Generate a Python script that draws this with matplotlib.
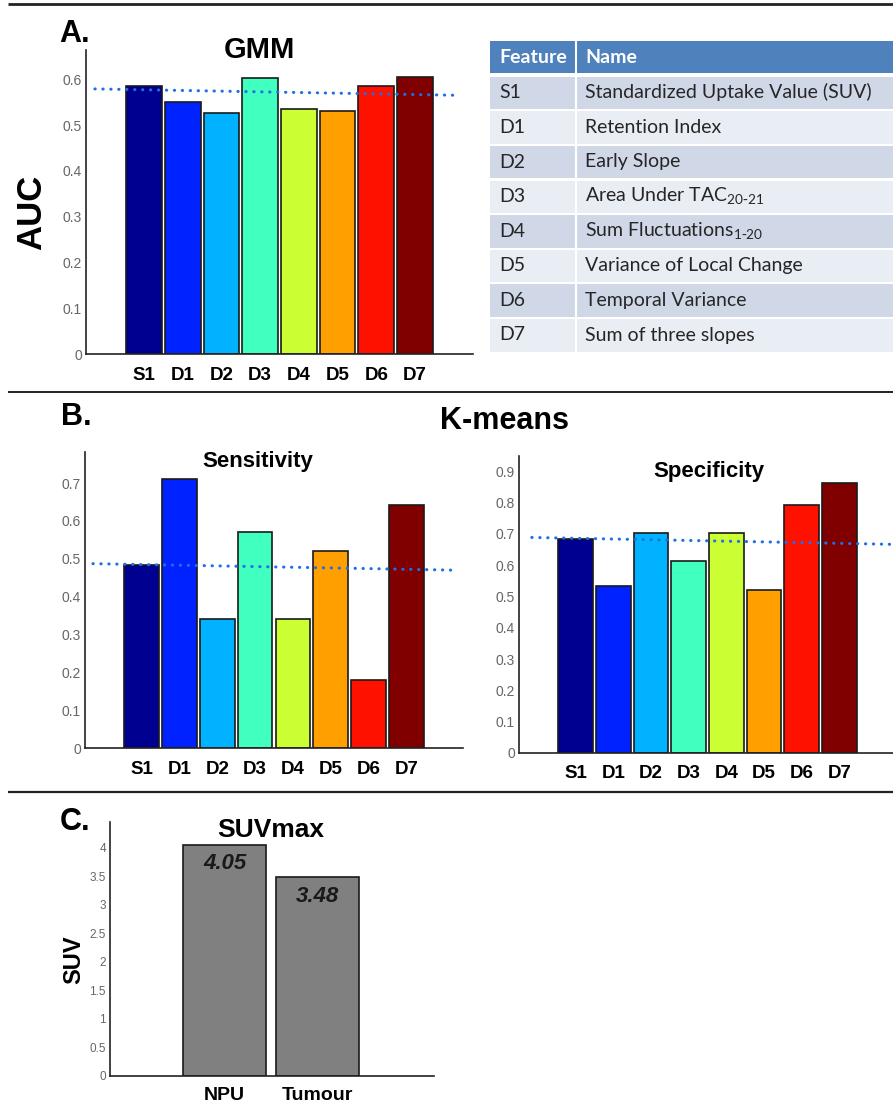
import matplotlib
matplotlib.use("Agg")
import matplotlib.pyplot as plt
from matplotlib.patches import Rectangle
from matplotlib.ticker import FormatStrFormatter, MultipleLocator

plt.rcParams['font.family'] = ['Liberation Sans', 'DejaVu Sans']

# Feature codes shared by all bar panels
features = ['S1', 'D1', 'D2', 'D3', 'D4', 'D5', 'D6', 'D7']
feature_colors = ['#000090', '#0022FF', '#00B2FF', '#40FFBF',
                  '#CCFF33', '#FF9F00', '#FF1100', '#800000']

# A. GMM
gmm_auc = [0.585, 0.551, 0.527, 0.603, 0.535, 0.531, 0.585, 0.605]
gmm_ref = [0.579, 0.565]          # reference line, start / end value

# B. K-means
km_sensitivity = [0.484, 0.711, 0.340, 0.571, 0.340, 0.521, 0.180, 0.643]
km_sens_ref = [0.487, 0.470]
km_specificity = [0.682, 0.532, 0.703, 0.612, 0.703, 0.520, 0.792, 0.861]
km_spec_ref = [0.688, 0.666]

# C. SUVmax
suv_groups = ['NPU', 'Tumour']
suv_max = [4.05, 3.48]

# Feature table
table_codes = ['S1', 'D1', 'D2', 'D3', 'D4', 'D5', 'D6', 'D7']
table_names = ['Standardized Uptake Value (SUV)',
               'Retention Index',
               'Early Slope',
               r'Area Under TAC$_{\mathregular{20\text{-}21}}$',
               r'Sum Fluctuations$_{\mathregular{1\text{-}20}}$',
               'Variance of Local Change',
               'Temporal Variance',
               'Sum of three slopes']

W, H = 893, 1109
fig = plt.figure(figsize=(W / 100, H / 100), dpi=100)

# full-figure overlay in pixel coordinates for rules, table and labels
ov = fig.add_axes([0, 0, 1, 1], zorder=0)
ov.set_xlim(0, W)
ov.set_ylim(H, 0)
ov.axis('off')


def rect(left, top, right, bottom):
    return [left / W, 1 - bottom / H, (right - left) / W, (bottom - top) / H]


def style_axes(ax, ylim, step, fmt, tick_size=10):
    ax.set_facecolor('none')
    for s in ('top', 'right'):
        ax.spines[s].set_visible(False)
    for s in ('left', 'bottom'):
        ax.spines[s].set_linewidth(1.2)
        ax.spines[s].set_color('#222222')
    ax.set_ylim(*ylim)
    ax.yaxis.set_major_locator(MultipleLocator(step))
    ax.yaxis.set_major_formatter(FormatStrFormatter(fmt))
    ax.tick_params(axis='y', length=0, pad=3, labelsize=tick_size,
                   labelcolor='#666666')
    ax.tick_params(axis='x', length=0, pad=9)


def feature_bars(ax, values, ref, ref_x, ylim, step):
    x = list(range(1, len(features) + 1))
    ax.bar(x, values, width=0.92, color=feature_colors,
           edgecolor='#1a1a1a', linewidth=1.2, zorder=2)
    ax.set_xlim(-0.5, 9.5)
    style_axes(ax, ylim, step, '%g')
    ax.set_xticks(x)
    ax.set_xticklabels(features, fontsize=13.5, fontweight='bold')
    ax.plot(ref_x, ref, color='#1F6FE5', linewidth=2.2,
            linestyle=(0, (0.1, 2.5)), dash_capstyle='round',
            clip_on=False, zorder=3)


# A. GMM
ax_a = fig.add_axes(rect(86, 50, 473, 354))
feature_bars(ax_a, gmm_auc, gmm_ref, [-0.27, 9.16], (0, 0.664), 0.1)

# B. Sensitivity / Specificity
ax_sens = fig.add_axes(rect(85, 452, 463, 748))
feature_bars(ax_sens, km_sensitivity, km_sens_ref, [-0.29, 9.2], (0, 0.782), 0.1)

ax_spec = fig.add_axes(rect(519, 456, 896, 753))
feature_bars(ax_spec, km_specificity, km_spec_ref, [-0.16, 9.42], (0, 0.948), 0.1)

# C. SUVmax
ax_c = fig.add_axes(rect(110, 822, 434, 1076))
xc = [1, 2]
ax_c.bar(xc, suv_max, width=0.9, color='#808080',
         edgecolor='#1a1a1a', linewidth=1.2, zorder=2)
ax_c.set_xlim(-0.24, 3.26)
style_axes(ax_c, (0, 4.45), 0.5, '%g', tick_size=8.5)
ax_c.set_xticks(xc)
ax_c.set_xticklabels(suv_groups, fontsize=14, fontweight='bold')
ax_c.tick_params(axis='x', pad=8)
for xi, v in zip(xc, suv_max):
    ax_c.text(xi, v - 0.33, f'{v:.2f}', ha='center', va='center',
              fontsize=16, fontweight='bold', fontstyle='italic',
              color='#1a1a1a', zorder=3)

# horizontal rules between panels
for y, lw in ((4, 2.0), (392, 1.4), (792, 1.6)):
    ov.plot([8, W], [y, y], color='#222222', linewidth=lw,
            solid_capstyle='butt')

# panel letters and titles
bold = dict(fontweight='bold', color='black', ha='center', va='center')
ov.text(75, 34, 'A.', fontsize=22, **bold)
ov.text(76, 417, 'B.', fontsize=22, **bold)
ov.text(75, 822, 'C.', fontsize=22, **bold)
ov.text(259, 50, 'GMM', fontsize=21, **bold)
ov.text(505, 421, 'K-means', fontsize=22, **bold)
ov.text(258, 462, 'Sensitivity', fontsize=16, **bold)
ov.text(709, 471, 'Specificity', fontsize=16, **bold)
ov.text(271, 830, 'SUVmax', fontsize=19, **bold)
ov.text(32, 212, 'AUC', fontsize=25, rotation=90, **bold)
ov.text(74, 960, 'SUV', fontsize=17, rotation=90, **bold)

# feature table
tbl_left, tbl_right, col_div = 490, 893, 576
tfont = ['Lato', 'DejaVu Sans']
ov.add_patch(Rectangle((tbl_left, 40.5), tbl_right - tbl_left, 32.5,
                       facecolor='#4F81BD', edgecolor='none'))
ov.plot([col_div, col_div], [40.5, 73], color='white', linewidth=1.5)
ov.text(499, 63, 'Feature', fontsize=14, fontweight='bold', color='white',
        va='baseline', family=tfont)
ov.text(585, 63, 'Name', fontsize=14, fontweight='bold', color='white',
        va='baseline', family=tfont)
row_top, row_pitch, row_h = 76.7, 34.6, 32.6
for i, (code, name) in enumerate(zip(table_codes, table_names)):
    top = row_top + i * row_pitch
    shade = '#D0D8E8' if i % 2 == 0 else '#E9EDF4'
    ov.add_patch(Rectangle((tbl_left, top), tbl_right - tbl_left, row_h,
                           facecolor=shade, edgecolor='none'))
    ov.plot([col_div, col_div], [top, top + row_h], color='white', linewidth=1.5)
    yb = top + 21.6
    ov.text(499, yb, code, fontsize=14, color='#262626', va='baseline',
            family=tfont)
    ov.text(585, yb, name, fontsize=14, color='#262626', va='baseline',
            family=tfont)

fig.savefig('out.png', dpi=100)
